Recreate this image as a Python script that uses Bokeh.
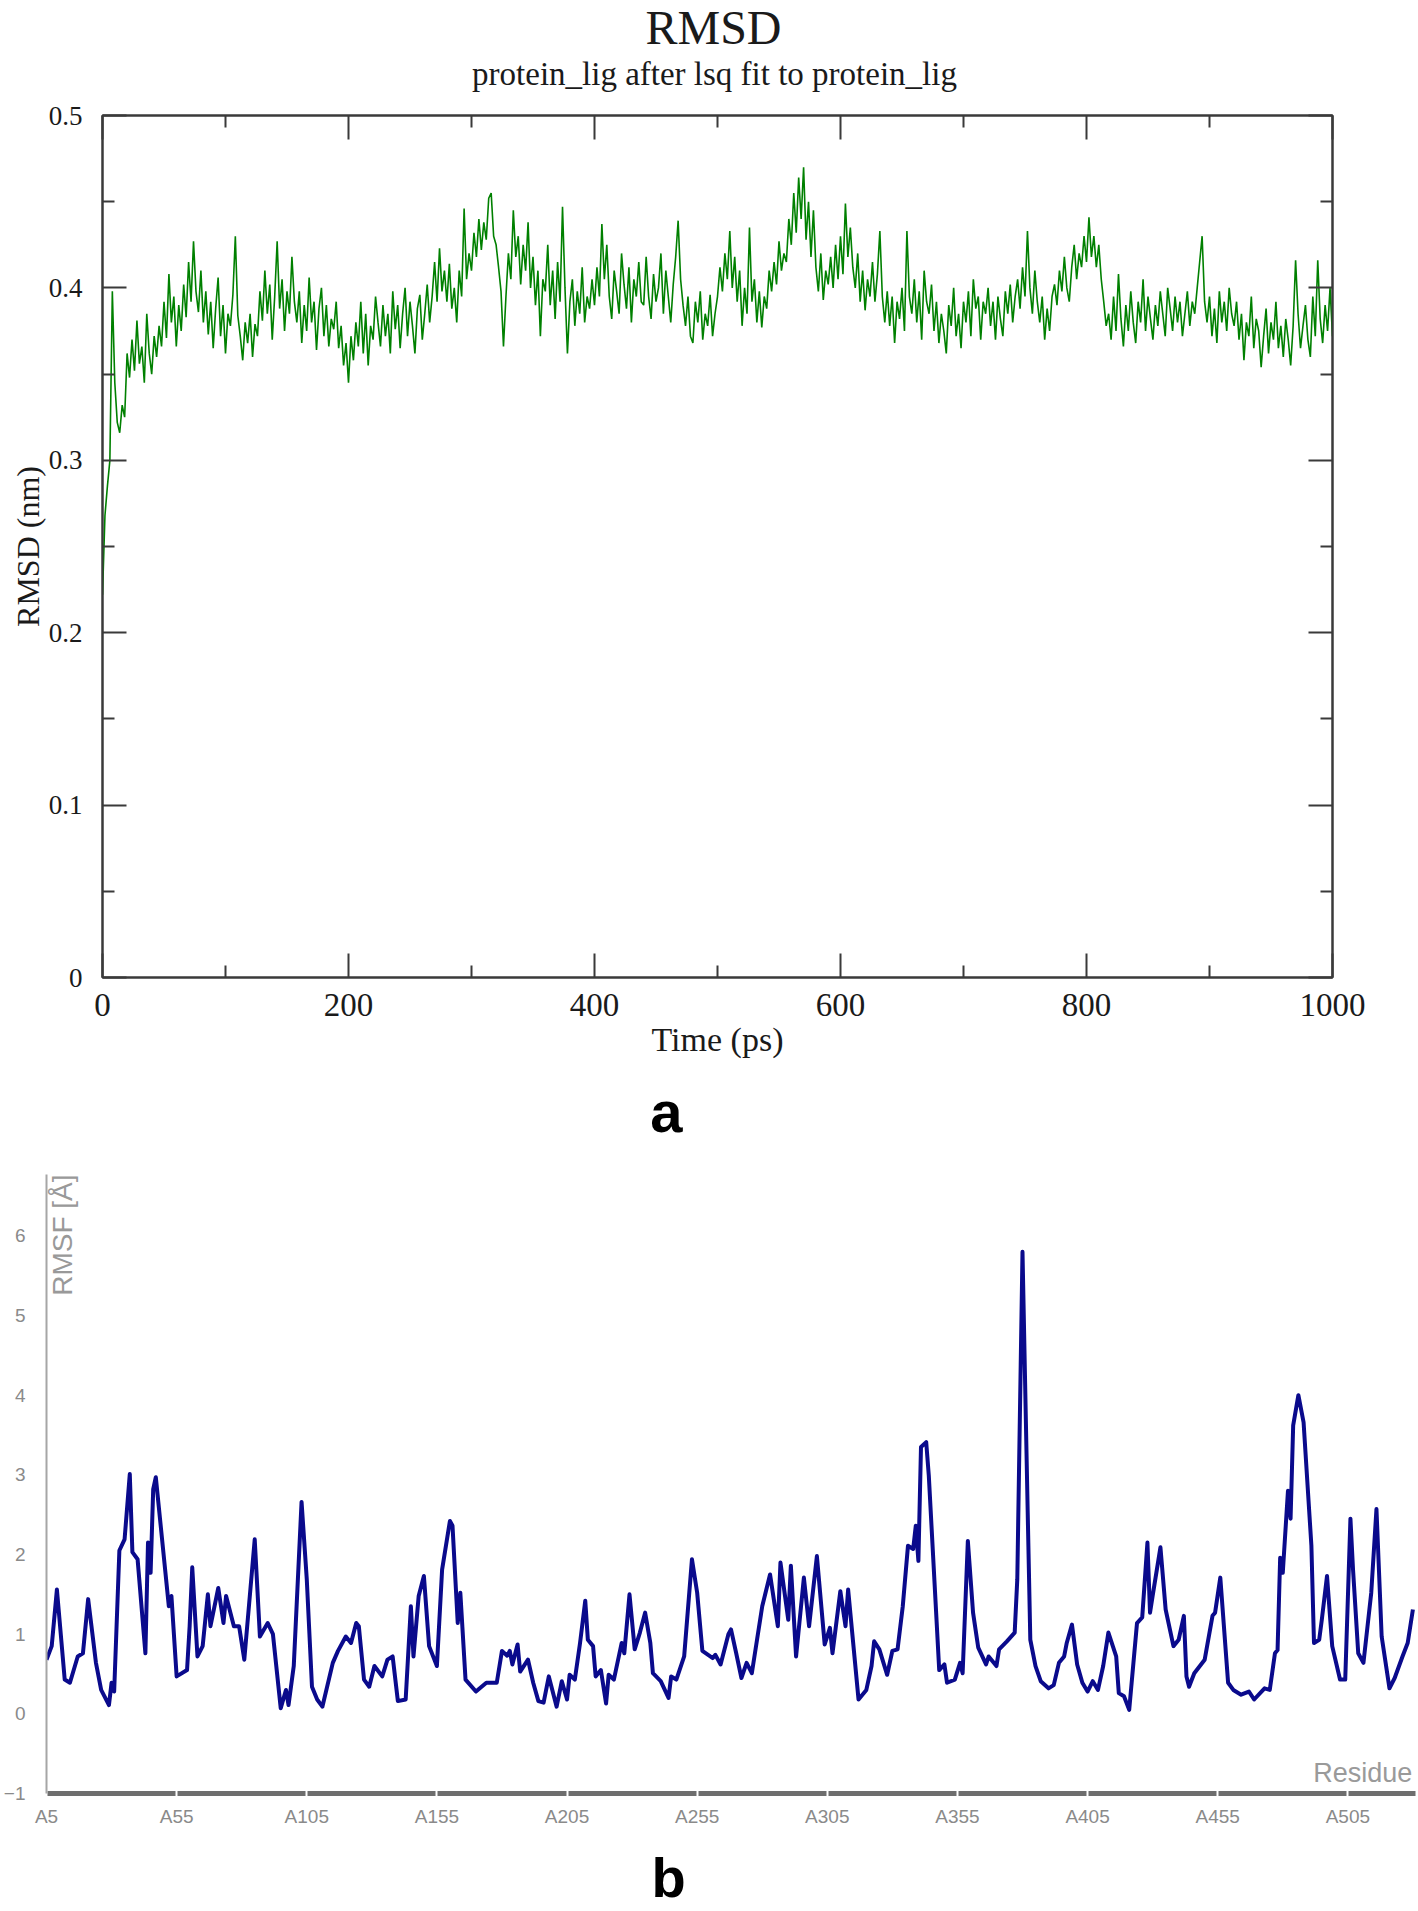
import numpy as np
from bokeh.plotting import figure
from bokeh.models import Range1d, LinearAxis, FixedTicker, Label
from bokeh.core.properties import value
from bokeh.embed import file_html
from bokeh.resources import INLINE

# ---------------- data: RMSD (panel a) ----------------
rmsd_time = list(range(0, 1001, 2))  # ps
rmsd_nm = [
    0.222, 0.268, 0.285, 0.300, 0.398, 0.345, 0.322, 0.316, 0.332, 0.325, 0.362, 0.348, 0.370, 0.352, 0.381, 0.356, 0.366, 0.345, 0.385, 0.362,
    0.350, 0.372, 0.360, 0.378, 0.366, 0.392, 0.371, 0.408, 0.380, 0.395, 0.366, 0.390, 0.375, 0.402, 0.383, 0.415, 0.392, 0.427, 0.398, 0.386,
    0.410, 0.380, 0.398, 0.373, 0.392, 0.365, 0.388, 0.406, 0.372, 0.390, 0.362, 0.385, 0.378, 0.396, 0.430, 0.384, 0.372, 0.358, 0.380, 0.368,
    0.385, 0.360, 0.379, 0.372, 0.398, 0.381, 0.410, 0.385, 0.402, 0.370, 0.395, 0.427, 0.388, 0.405, 0.375, 0.398, 0.385, 0.418, 0.392, 0.380,
    0.398, 0.368, 0.390, 0.375, 0.406, 0.380, 0.392, 0.364, 0.388, 0.400, 0.372, 0.390, 0.366, 0.382, 0.376, 0.392, 0.365, 0.378, 0.355, 0.368,
    0.345, 0.372, 0.358, 0.380, 0.366, 0.392, 0.362, 0.385, 0.355, 0.378, 0.370, 0.395, 0.380, 0.366, 0.390, 0.372, 0.385, 0.362, 0.398, 0.376,
    0.390, 0.365, 0.385, 0.400, 0.372, 0.392, 0.378, 0.362, 0.388, 0.396, 0.370, 0.385, 0.402, 0.380, 0.395, 0.415, 0.392, 0.423, 0.398, 0.410,
    0.392, 0.414, 0.388, 0.400, 0.380, 0.410, 0.395, 0.446, 0.405, 0.420, 0.410, 0.432, 0.418, 0.440, 0.422, 0.438, 0.428, 0.452, 0.455, 0.430,
    0.425, 0.412, 0.398, 0.366, 0.395, 0.420, 0.405, 0.445, 0.418, 0.430, 0.402, 0.425, 0.410, 0.438, 0.400, 0.418, 0.390, 0.410, 0.372, 0.405,
    0.398, 0.425, 0.390, 0.410, 0.382, 0.415, 0.392, 0.447, 0.400, 0.362, 0.392, 0.405, 0.378, 0.398, 0.385, 0.412, 0.380, 0.395, 0.388, 0.405,
    0.390, 0.412, 0.395, 0.437, 0.405, 0.425, 0.395, 0.382, 0.410, 0.398, 0.385, 0.420, 0.402, 0.388, 0.412, 0.380, 0.405, 0.395, 0.415, 0.392,
    0.390, 0.418, 0.395, 0.382, 0.408, 0.392, 0.400, 0.420, 0.385, 0.410, 0.395, 0.380, 0.402, 0.418, 0.439, 0.405, 0.390, 0.378, 0.395, 0.372,
    0.368, 0.392, 0.380, 0.398, 0.370, 0.385, 0.378, 0.396, 0.372, 0.385, 0.395, 0.412, 0.398, 0.420, 0.405, 0.433, 0.400, 0.418, 0.392, 0.410,
    0.378, 0.400, 0.385, 0.435, 0.392, 0.405, 0.380, 0.398, 0.377, 0.395, 0.388, 0.410, 0.398, 0.415, 0.402, 0.427, 0.410, 0.420, 0.415, 0.440,
    0.425, 0.455, 0.432, 0.464, 0.440, 0.470, 0.428, 0.450, 0.418, 0.445, 0.412, 0.398, 0.420, 0.393, 0.410, 0.402, 0.418, 0.400, 0.425, 0.405,
    0.430, 0.408, 0.449, 0.418, 0.435, 0.412, 0.400, 0.420, 0.392, 0.410, 0.387, 0.405, 0.395, 0.415, 0.392, 0.408, 0.433, 0.395, 0.380, 0.398,
    0.378, 0.395, 0.368, 0.392, 0.382, 0.400, 0.375, 0.433, 0.395, 0.385, 0.405, 0.380, 0.398, 0.370, 0.410, 0.392, 0.385, 0.402, 0.375, 0.392,
    0.368, 0.385, 0.375, 0.362, 0.390, 0.378, 0.400, 0.372, 0.385, 0.365, 0.392, 0.380, 0.398, 0.372, 0.405, 0.388, 0.395, 0.370, 0.392, 0.385,
    0.400, 0.378, 0.392, 0.370, 0.395, 0.382, 0.372, 0.398, 0.385, 0.402, 0.380, 0.395, 0.405, 0.388, 0.412, 0.395, 0.433, 0.400, 0.385, 0.410,
    0.392, 0.380, 0.395, 0.370, 0.388, 0.375, 0.395, 0.402, 0.390, 0.410, 0.398, 0.418, 0.400, 0.392, 0.412, 0.425, 0.405, 0.420, 0.412, 0.430,
    0.415, 0.441, 0.418, 0.430, 0.412, 0.425, 0.405, 0.392, 0.378, 0.385, 0.370, 0.395, 0.375, 0.408, 0.382, 0.366, 0.390, 0.375, 0.398, 0.380,
    0.368, 0.392, 0.380, 0.405, 0.375, 0.395, 0.382, 0.370, 0.390, 0.378, 0.398, 0.385, 0.372, 0.400, 0.388, 0.375, 0.395, 0.380, 0.392, 0.372,
    0.385, 0.398, 0.378, 0.392, 0.385, 0.400, 0.415, 0.430, 0.392, 0.380, 0.395, 0.372, 0.388, 0.368, 0.398, 0.380, 0.392, 0.375, 0.400, 0.385,
    0.378, 0.392, 0.370, 0.385, 0.358, 0.380, 0.372, 0.395, 0.365, 0.382, 0.375, 0.354, 0.372, 0.388, 0.362, 0.380, 0.370, 0.392, 0.365, 0.378,
    0.360, 0.382, 0.370, 0.355, 0.378, 0.416, 0.385, 0.365, 0.378, 0.390, 0.370, 0.360, 0.395, 0.372, 0.416, 0.382, 0.368, 0.390, 0.375, 0.400,
    0.372,
]
rmsd_x_ticks = [0, 200, 400, 600, 800, 1000]
rmsd_x_minor = [100, 300, 500, 700, 900]
rmsd_y_ticks = [0, 0.1, 0.2, 0.3, 0.4, 0.5]
rmsd_y_minor = [0.05, 0.15, 0.25, 0.35, 0.45]

# ---------------- data: RMSF (panel b) ----------------
rmsf_residue = [
    5, 7, 9, 12, 14, 17, 19, 21, 24, 26, 29, 30, 31, 33, 35, 37, 38, 40, 43, 44,
    45, 46, 47, 52, 53, 55, 59, 60, 61, 63, 65, 67, 68, 71, 73, 74, 77, 79, 81, 85,
    87, 90, 92, 95, 97, 98, 100, 103, 105, 107, 109, 111, 115, 117, 120, 122, 124, 125, 127, 129,
    131, 134, 136, 138, 140, 143, 145, 146, 148, 150, 152, 155, 157, 160, 161, 163, 164, 166, 170, 174,
    178, 180, 182, 183, 184, 186, 187, 190, 192, 194, 196, 198, 201, 203, 205, 206, 208, 210, 212, 213,
    215, 216, 218, 220, 221, 223, 226, 227, 229, 231, 233, 235, 237, 238, 241, 244, 245, 247, 250, 253,
    255, 257, 261, 262, 264, 267, 268, 270, 272, 274, 276, 278, 280, 283, 286, 287, 290, 291, 293, 296,
    298, 301, 304, 306, 307, 310, 312, 313, 317, 320, 322, 323, 325, 328, 330, 332, 334, 336, 338, 339,
    340, 341, 343, 344, 348, 350, 351, 354, 356, 357, 359, 361, 363, 366, 367, 370, 371, 374, 377, 378,
    380, 382, 383, 385, 387, 390, 392, 394, 396, 397, 399, 401, 403, 405, 407, 409, 411, 413, 416, 417,
    419, 421, 424, 426, 428, 429, 430, 433, 435, 438, 440, 442, 443, 444, 446, 450, 453, 454, 456, 459,
    461, 464, 467, 469, 473, 475, 477, 478, 479, 480, 482, 483, 484, 486, 488, 491, 492, 494, 495, 497,
    499, 502, 504, 506, 507, 509, 511, 514, 516, 518, 521, 523, 526, 528, 530,
]
rmsf_angstrom = [
    0.68, 0.85, 1.56, 0.43, 0.39, 0.72, 0.76, 1.44, 0.64, 0.30, 0.11, 0.39, 0.28, 2.05, 2.19, 3.01, 2.03, 1.94, 0.76, 2.15,
    1.77, 2.82, 2.97, 1.35, 1.48, 0.47, 0.55, 1.10, 1.84, 0.72, 0.85, 1.50, 1.10, 1.58, 1.14, 1.48, 1.10, 1.10, 0.68, 2.19,
    0.97, 1.14, 1.00, 0.07, 0.30, 0.11, 0.60, 2.66, 1.69, 0.34, 0.18, 0.09, 0.64, 0.79, 0.97, 0.89, 1.14, 1.10, 0.43, 0.34,
    0.60, 0.47, 0.68, 0.72, 0.16, 0.18, 1.35, 0.72, 1.48, 1.73, 0.85, 0.60, 1.81, 2.42, 2.36, 1.14, 1.52, 0.43, 0.28, 0.39,
    0.39, 0.79, 0.73, 0.79, 0.62, 0.87, 0.53, 0.68, 0.39, 0.16, 0.14, 0.47, 0.09, 0.41, 0.18, 0.49, 0.43, 0.89, 1.42, 0.93,
    0.85, 0.47, 0.55, 0.13, 0.49, 0.43, 0.89, 0.76, 1.50, 0.81, 1.02, 1.27, 0.89, 0.51, 0.41, 0.20, 0.47, 0.43, 0.72, 1.94,
    1.52, 0.79, 0.70, 0.74, 0.62, 1.00, 1.06, 0.76, 0.45, 0.64, 0.51, 0.93, 1.35, 1.75, 1.10, 1.90, 1.18, 1.86, 0.72, 1.71,
    1.10, 1.98, 0.87, 1.08, 0.76, 1.54, 1.10, 1.56, 0.18, 0.30, 0.60, 0.91, 0.81, 0.49, 0.79, 0.81, 1.35, 2.11, 2.07, 2.36,
    1.92, 3.35, 3.41, 2.99, 0.55, 0.62, 0.39, 0.43, 0.64, 0.51, 2.17, 1.27, 0.83, 0.62, 0.72, 0.60, 0.81, 0.91, 1.02, 1.69,
    5.80, 2.53, 0.93, 0.60, 0.41, 0.32, 0.36, 0.64, 0.72, 0.89, 1.12, 0.62, 0.39, 0.28, 0.41, 0.30, 0.60, 1.02, 0.72, 0.26,
    0.22, 0.05, 1.14, 1.21, 2.15, 1.27, 1.48, 2.09, 1.31, 0.85, 0.93, 1.23, 0.47, 0.34, 0.51, 0.68, 1.23, 1.27, 1.71, 0.39,
    0.30, 0.24, 0.28, 0.18, 0.32, 0.30, 0.76, 0.80, 1.96, 1.77, 2.80, 2.45, 3.62, 4.00, 3.66, 2.11, 0.89, 0.93, 1.18, 1.73,
    0.85, 0.43, 0.43, 2.45, 1.81, 0.76, 0.64, 1.52, 2.57, 0.97, 0.32, 0.45, 0.72, 0.89, 1.31,
]
rmsf_y_ticks = [-1, 0, 1, 2, 3, 4, 5, 6]
rmsf_x_ticks = [5, 55, 105, 155, 205, 255, 305, 355, 405, 455, 505]
rmsf_x_labels = ["A5", "A55", "A105", "A155", "A205", "A255", "A305",
                 "A355", "A405", "A455", "A505"]

SERIF = "Liberation Serif"
SANS = "Liberation Sans"
AX = "#3a3a3a"
INK = "#1a1a1a"
W = 1418


def text_strip(height):
    p = figure(width=W, height=height, output_backend="svg", toolbar_location=None,
               x_range=Range1d(0, W), y_range=Range1d(height, 0),
               x_axis_type=None, y_axis_type=None,
               min_border_left=0, min_border_right=0,
               min_border_top=0, min_border_bottom=0)
    p.outline_line_color = None
    p.grid.visible = False
    p.background_fill_color = "white"
    p.border_fill_color = "white"
    return p


# ---------------- top strip: titles (page y 0..95) ----------------
ftop = text_strip(95)
ftop.text(x=[713], y=[27], text=["RMSD"], text_font=value(SERIF),
          text_font_size="48px", text_align="center", text_baseline="alphabetic",
          text_color=INK)
ftop.text(x=[714], y=[73], text=["protein_lig after lsq fit to protein_lig"],
          text_font=value(SERIF), text_font_size="33px", text_align="center",
          text_baseline="alphabetic", text_color=INK)

# ---------------- panel a (page y 95..1080) ----------------
HA = 985
pa = figure(width=W, height=HA, output_backend="svg", toolbar_location=None,
            x_range=Range1d(0, 1000), y_range=Range1d(0, 0.5),
            x_axis_type=None, y_axis_type=None,
            min_border_left=102, min_border_right=86,
            min_border_top=20, min_border_bottom=HA - 20 - 862)
pa.outline_line_color = AX
pa.outline_line_width = 2
pa.background_fill_color = "white"
pa.border_fill_color = "white"


def style_a(ax, ticks, minor, show_labels, size):
    ax.ticker = FixedTicker(ticks=ticks, minor_ticks=minor)
    ax.axis_line_color = AX
    ax.axis_line_width = 2
    ax.major_tick_in = 24
    ax.major_tick_out = 0
    ax.minor_tick_in = 12
    ax.minor_tick_out = 0
    ax.major_tick_line_color = AX
    ax.major_tick_line_width = 2
    ax.minor_tick_line_color = AX
    ax.minor_tick_line_width = 2
    ax.major_label_text_font = SERIF
    if show_labels:
        ax.major_label_text_font_size = size
        ax.major_label_text_color = INK
    else:
        ax.major_label_text_font_size = "2px"
        ax.major_label_text_color = None
        ax.major_label_standoff = 0


xb = LinearAxis(axis_label="Time (ps)")
style_a(xb, rmsd_x_ticks, rmsd_x_minor, True, "33px")
xb.major_label_standoff = 16
xb.axis_label_standoff = 2
xb.axis_label_text_font = SERIF
xb.axis_label_text_font_size = "34px"
xb.axis_label_text_font_style = "normal"
xb.axis_label_text_color = INK
pa.add_layout(xb, "below")

yl = LinearAxis(axis_label="RMSD (nm)")
style_a(yl, rmsd_y_ticks, rmsd_y_minor, True, "27px")
yl.major_label_standoff = 20
yl.axis_label_standoff = 0
yl.axis_label_text_font = SERIF
yl.axis_label_text_font_size = "32px"
yl.axis_label_text_font_style = "normal"
yl.axis_label_text_color = INK
pa.add_layout(yl, "left")

xt = LinearAxis()
style_a(xt, rmsd_x_ticks, rmsd_x_minor, False, None)
pa.add_layout(xt, "above")

yr = LinearAxis()
style_a(yr, rmsd_y_ticks, rmsd_y_minor, False, None)
pa.add_layout(yr, "right")

pa.line(rmsd_time, rmsd_nm, line_color="#008000", line_width=1.6)
pa.grid.visible = False

# ---------------- strip with "a" (page y 1080..1160) ----------------
fmid = text_strip(80)
fmid.text(x=[666], y=[31], text=["a"], text_font=value(SANS),
          text_font_size="58px", text_font_style="bold", text_align="center",
          text_baseline="alphabetic", text_color="black")

# ---------------- panel b (page y 1160..1840) ----------------
HB = 680
pb = figure(width=W, height=HB, output_backend="svg", toolbar_location=None,
            x_range=Range1d(5, 531), y_range=Range1d(-1, 6.77),
            x_axis_type=None, y_axis_type=None,
            min_border_left=43, min_border_right=3,
            min_border_top=14, min_border_bottom=HB - 14 - 619)
pb.outline_line_color = None
pb.background_fill_color = "white"
pb.border_fill_color = "white"

bx = LinearAxis()
bx.ticker = FixedTicker(ticks=rmsf_x_ticks, minor_ticks=[])
bx.major_label_overrides = {t: s for t, s in zip(rmsf_x_ticks, rmsf_x_labels)}
bx.axis_line_color = "#6e6e6e"
bx.axis_line_width = 5
bx.major_tick_in = 3
bx.major_tick_out = 3
bx.major_tick_line_color = "white"
bx.major_tick_line_width = 2
bx.minor_tick_line_color = None
bx.major_label_text_font = SANS
bx.major_label_text_font_size = "19px"
bx.major_label_text_color = "#8a8a8a"
bx.major_label_standoff = 9
pb.add_layout(bx, "below")

by = LinearAxis()
by.ticker = FixedTicker(ticks=rmsf_y_ticks, minor_ticks=[])
by.axis_line_color = "#a6a6a6"
by.axis_line_width = 2
by.major_tick_in = 0
by.major_tick_out = 0
by.major_tick_line_color = None
by.minor_tick_line_color = None
by.major_label_text_font = SANS
by.major_label_text_font_size = "19px"
by.major_label_text_color = "#8a8a8a"
by.major_label_standoff = 21
pb.add_layout(by, "left")

pb.line(rmsf_residue, rmsf_angstrom, line_color="#0a0a8c", line_width=4,
        line_join="round")

pb.add_layout(Label(x=5.0, y=6.77, text="RMSF [Å]", angle=np.pi / 2,
                    text_font=SANS, text_font_size="28px", text_color="#999999",
                    text_align="right", text_baseline="top"))
pb.add_layout(Label(x=529.8, y=-0.737, text="Residue", text_font=SANS,
                    text_font_size="27px", text_color="#9a9a9a",
                    text_align="right", text_baseline="alphabetic"))
pb.grid.visible = False

# ---------------- strip with "b" (page y 1840..1911) ----------------
fbot = text_strip(71)
fbot.text(x=[668], y=[37], text=["b"], text_font=value(SANS),
          text_font_size="56px", text_font_style="bold", text_align="center",
          text_baseline="alphabetic", text_color="black")

html = file_html([ftop, pa, fmid, pb, fbot], INLINE, "RMSD and RMSF")
open("out.html", "w").write(html)
